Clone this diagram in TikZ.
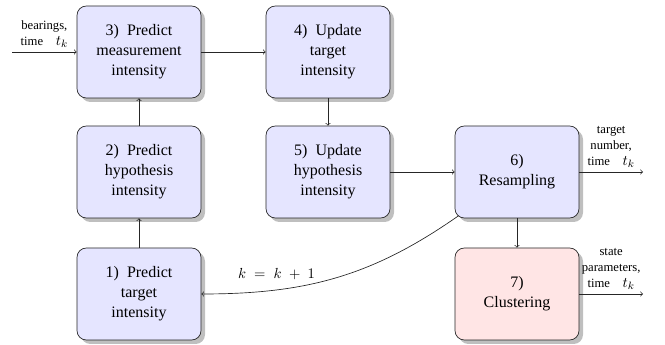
\documentclass[tikz,border=0pt]{standalone}
\usepackage{fontspec}
\setmainfont{Liberation Serif}
\usetikzlibrary{shadows}
\begin{document}
\begin{tikzpicture}[x=0.75pt,y=-0.75pt,
  stepbox/.style={draw=black!85, line width=0.5pt, rounded corners=7pt,
    minimum width=93pt, minimum height=69pt, text width=85pt, align=center,
    fill=blue!10, font=\fontsize{12}{15}\selectfont,
    drop shadow={shadow xshift=3pt, shadow yshift=-3pt, fill=black!25, opacity=1}},
  pinkbox/.style={stepbox, fill=red!10},
  flow/.style={->, line width=0.5pt, draw=black!85},
  sidelabel/.style={font=\fontsize{9.5}{12}\selectfont, align=center, inner sep=1pt}
]
\useasboundingbox (0,0) rectangle (665,345);

\node[stepbox] (n3) at (139,52) {3)\hspace{0.5em}Predict\\measurement\\intensity};
\node[stepbox] (n4) at (328,52) {4)\hspace{0.5em}Update\\target\\intensity};
\node[stepbox] (n2) at (139,172) {2)\hspace{0.5em}Predict\\hypothesis\\intensity};
\node[stepbox] (n5) at (328,172) {5)\hspace{0.5em}Update\\hypothesis\\intensity};
\node[stepbox] (n6) at (517,172) {6)\\Resampling};
\node[pinkbox] (n7) at (517,294) {7)\\Clustering};
\node[stepbox] (n1) at (139,294) {1)\hspace{0.5em}Predict\\target\\intensity};

\coordinate (in3) at (12,52);
\coordinate (out6) at (643,172);
\coordinate (out7) at (643,294);

\draw[flow] (in3) -- node[above=2pt, sidelabel] {bearings,\\time\quad{\fontsize{11}{12}\selectfont$t_k$}} (n3.west);
\draw[flow] (n3) -- (n4);
\draw[flow] (n2) -- (n3);
\draw[flow] (n1) -- (n2);
\draw[flow] (n4) -- (n5);
\draw[flow] (n5) -- (n6);
\draw[flow] (n6) -- (n7);
\draw[flow] (n6.east) -- node[above=2pt, sidelabel] {target\\number,\\time\quad{\fontsize{11}{12}\selectfont$t_k$}} (out6);
\draw[flow] (n7.east) -- node[above=2pt, sidelabel] {state\\parameters,\\time\quad{\fontsize{11}{12}\selectfont$t_k$}} (out7);
\draw[flow] ([xshift=3pt,yshift=2pt]n6.south west) to[out=215,in=0]
  node[pos=0.74, above=4pt, font=\fontsize{11}{13}\selectfont] {$k\;=\;k\;+\;1$} (n1.east);
\end{tikzpicture}
\end{document}
